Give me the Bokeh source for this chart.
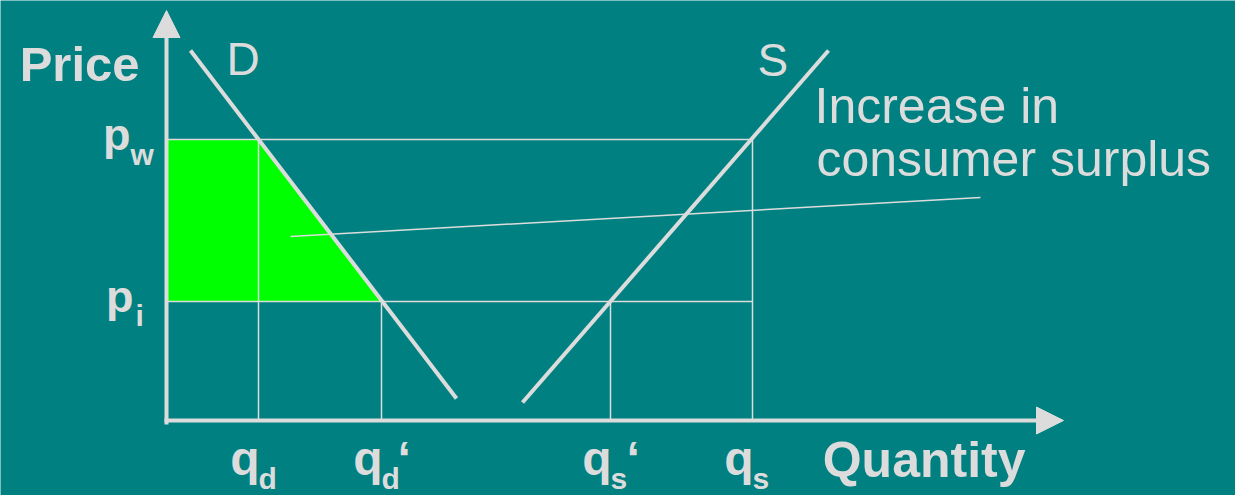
from bokeh.plotting import figure
from bokeh.models import Range1d, Arrow, NormalHead
from bokeh.core.properties import value
from bokeh.embed import file_html
from bokeh.resources import INLINE

# ---- values (quantity / price units) ----
q_d = 9.2          # demand at world price
q_d_prime = 21.5   # demand at internal price
q_s_prime = 44.4   # supply at internal price
q_s = 58.6         # supply at world price
p_w = 28.1         # world price
p_i = 11.9         # internal price

demand_q = [2.4, 29.0]
demand_p = [37.0, 2.2]
supply_q = [35.6, 66.2]
supply_p = [1.8, 37.0]

# pointer from the label to the shaded area
note_q = [12.4, 81.4]
note_p = [18.4, 22.3]

axis_top = 41.0
axis_right = 89.7

tick_q = [q_d, q_d_prime, q_s_prime, q_s]
tick_sub = ["d", "d", "s", "s"]
tick_prime = [False, True, True, False]

BG = "#008080"
FG = "#dcdcdc"
GREEN = "#00ff00"
FONT = value("Liberation Sans")

p = figure(width=1235, height=495, output_backend="svg", toolbar_location=None,
           x_range=Range1d(-16.6, 106.9), y_range=Range1d(-7.5, 42.0),
           min_border=0, background_fill_color=BG, border_fill_color=BG)
p.outline_line_color = None
p.xaxis.visible = False
p.yaxis.visible = False
p.xgrid.visible = False
p.ygrid.visible = False

# consumer surplus gain
p.patch([0, q_d, q_d_prime, 0], [p_w, p_w, p_i, p_i],
        fill_color=GREEN, line_color=None)

# guide lines
p.segment(x0=[0, 0], y0=[p_w, p_i], x1=[q_s, q_s], y1=[p_w, p_i],
          line_color=FG, line_width=1.5)
p.segment(x0=tick_q, y0=[0, 0, 0, 0], x1=tick_q, y1=[p_w, p_i, p_i, p_w],
          line_color=FG, line_width=1.5)

# demand and supply
p.line(demand_q, demand_p, line_color=FG, line_width=4)
p.line(supply_q, supply_p, line_color=FG, line_width=4)

# annotation pointer
p.line(note_q, note_p, line_color=FG, line_width=1.5)

# axes with arrow heads
head = dict(size=27, fill_color=FG, line_color=FG, line_width=1)
p.add_layout(Arrow(end=NormalHead(**head), x_start=0, y_start=-0.4,
                   x_end=0, y_end=axis_top, line_color=FG, line_width=4))
p.add_layout(Arrow(end=NormalHead(**head), x_start=-0.2, y_start=0,
                   x_end=axis_right, y_end=0, line_color=FG, line_width=4))

def label(x, y, text, size, bold=False, align="left", dx=0, dy=0):
    # dy is the wanted baseline offset; the renderer sits glyphs ~0.37em lower
    p.text(x=[x], y=[y], text=[text], text_color=FG, text_font=FONT,
           text_font_size=f"{size}px",
           text_font_style="bold" if bold else "normal",
           text_align=align, text_baseline="alphabetic",
           x_offset=dx, y_offset=dy - round(0.37 * size))

# axis titles
label(0, axis_top, "Price", 49, bold=True, align="right", dx=-27, dy=71)
label(axis_right, 0, "Quantity", 50, bold=True, align="right", dx=-38, dy=57)

# curve names
label(demand_q[0], demand_p[0], "D", 46, dx=36, dy=25)
label(supply_q[1], supply_p[1], "S", 46, dx=-71, dy=26)

# annotation text
label(note_q[1], note_p[1], "Increase in", 50, dx=-166, dy=-74)
label(note_q[1], note_p[1], "consumer surplus", 50, dx=-164, dy=-21)

# price labels
label(0, p_w, "p", 45, bold=True, align="right", dx=-36, dy=12)
label(0, p_w, "w", 30, bold=True, dx=-36, dy=26)
label(0, p_i, "p", 45, bold=True, align="right", dx=-33, dy=12)
label(0, p_i, "i", 30, bold=True, dx=-31, dy=25)

# quantity labels
for q, sub, prime in zip(tick_q, tick_sub, tick_prime):
    label(q, 0, "q", 48, bold=True, align="right", dx=1, dy=56)
    label(q, 0, sub, 30, bold=True, dx=0, dy=69)
    if prime:
        label(q, 0, "\u2018", 48, bold=True, dx=16, dy=56)

open("out.html", "w").write(file_html(p, INLINE))
